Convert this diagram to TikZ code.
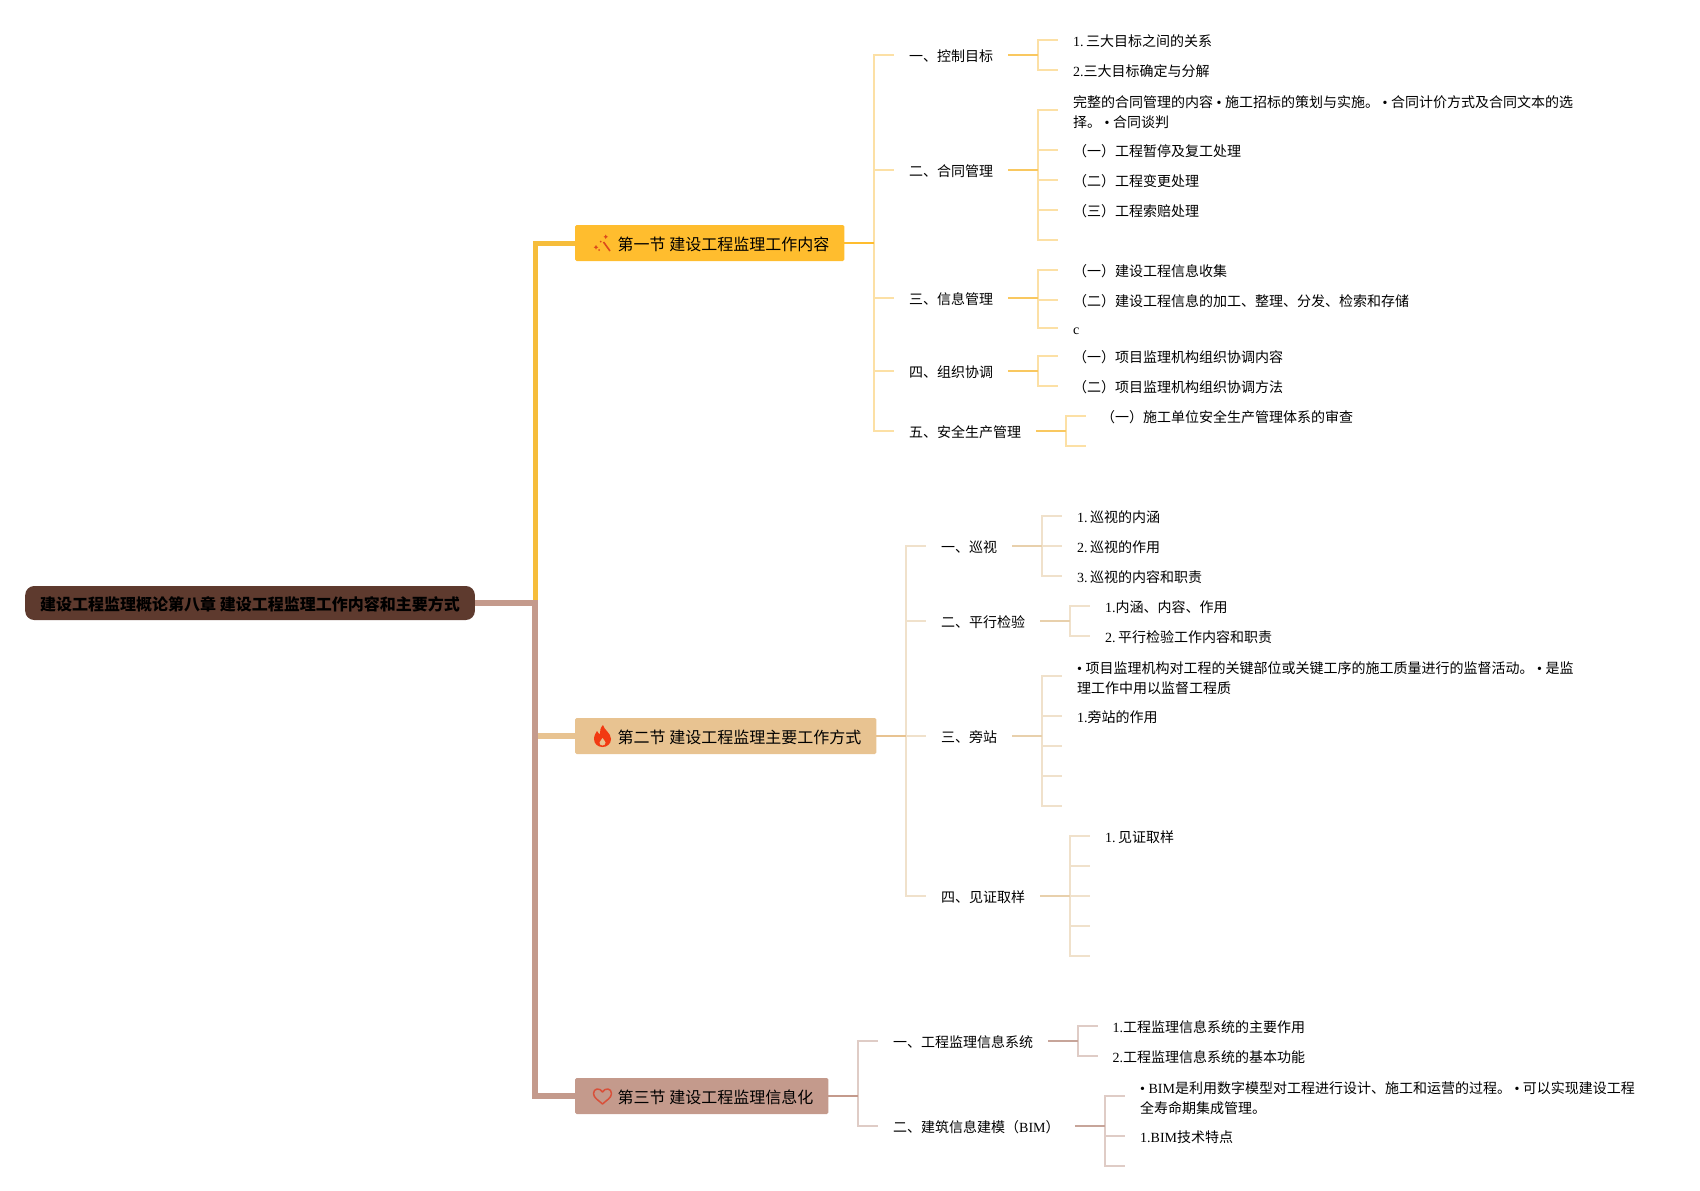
\documentclass[tikz,border=0pt]{standalone}
\usepackage{fontspec}
\setmainfont{Liberation Serif}
\newfontfamily\cjk{Noto Sans CJK SC}
\newcommand{\lat}[1]{{\rmfamily #1}}
\newcommand{\toplift}{\rule{0pt}{17pt}}
\usepackage{tikz}

\definecolor{rootfill}{HTML}{5E3A2E}
\definecolor{yellowmain}{HTML}{FFBD2E}
\definecolor{yellowline}{HTML}{F6BD3B}
\definecolor{yellowstem}{HTML}{F9C860}
\definecolor{yellowtwig}{HTML}{FCE0A5}
\definecolor{tanmain}{HTML}{E8C391}
\definecolor{tanstem}{HTML}{E8D0AC}
\definecolor{tantwig}{HTML}{F0E1CB}
\definecolor{pinkmain}{HTML}{C49A8C}
\definecolor{pinkstem}{HTML}{C7A59A}
\definecolor{pinktwig}{HTML}{DFCCC6}
\definecolor{iconred}{HTML}{F23A12}
\definecolor{heartred}{HTML}{D8503A}
\definecolor{wandred}{HTML}{DB4A1C}

\tikzset{
	rootbox/.style={anchor=west, fill=rootfill, rounded corners=9pt, inner xsep=15pt, minimum height=34pt,
		font=\fontsize{16}{20}\selectfont\cjk\bfseries, text=black, execute at begin node={\rule[-2pt]{0pt}{19pt}}},
	secbox/.style={anchor=west, rounded corners=1.5pt, inner xsep=15pt, minimum height=36pt,
		font=\fontsize{16}{20}\selectfont\cjk, text=black, execute at begin node={\rule[-2pt]{0pt}{19pt}}},
	subitem/.style={anchor=west, inner xsep=15pt, inner ysep=0pt, font=\fontsize{14}{20}\selectfont\cjk,
		execute at begin node={\rule[-2pt]{0pt}{17.8pt}}},
	leafitem/.style={anchor=west, inner xsep=15pt, inner ysep=0pt, align=left, font=\fontsize{14}{20}\selectfont\cjk,
		execute at begin node={\rule[-2pt]{0pt}{17.8pt}}},
	twig/.style={line width=1.8pt, to path={|- (\tikztotarget)}},
	stem/.style={line width=2.2pt},
}

\begin{document}
\begin{tikzpicture}[x=1pt,y=-1pt]

	\useasboundingbox (0,0) rectangle (1700,1191);

	\node[rootbox] (root) at (25,603) {建设工程监理概论第八章 建设工程监理工作内容和主要方式};
	\coordinate (trunk) at (535,603);

	\node[secbox, fill=yellowmain] (s1) at (575,243) {\hspace*{27.5pt}第一节 建设工程监理工作内容};
	\node[secbox, fill=tanmain] (s2) at (575,736) {\hspace*{27.5pt}第二节 建设工程监理主要工作方式};
	\node[secbox, fill=pinkmain] (s3) at (575,1096) {\hspace*{27.5pt}第三节 建设工程监理信息化};

	\draw[yellowline, line width=5pt] (trunk) |- (s1);
	\draw[tanmain, line width=5.5pt] (trunk |- s2) -- (s2);
	\draw[pinkmain, line width=6pt] (root) -- (trunk) |- (s3);

	% first section
	\coordinate (b1) at (874,243);
	\node[subitem] (m11) at (894,55) {一、控制目标};
	\node[subitem] (m12) at (894,170) {二、合同管理};
	\node[subitem] (m13) at (894,298) {三、信息管理};
	\node[subitem] (m14) at (894,371) {四、组织协调};
	\node[subitem] (m15) at (894,431) {五、安全生产管理};

	\coordinate (b11) at (1038,55);
	\coordinate (b12) at (1038,170);
	\coordinate (b13) at (1038,298);
	\coordinate (b14) at (1038,371);
	\coordinate (b15) at (1066,431);

	\node[leafitem] (l111) at (1058,40) {\lat{1.\,}三大目标之间的关系};
	\node[leafitem] (l112) at (1058,70) {\lat{2.}三大目标确定与分解};
	\node[leafitem] (l121) at (1058,110) {\toplift 完整的合同管理的内容\lat{ • }施工招标的策划与实施。\lat{ • }合同计价方式及合同文本的选\\择。\lat{ • }合同谈判};
	\node[leafitem] (l122) at (1058,150) {（一）工程暂停及复工处理};
	\node[leafitem] (l123) at (1058,180) {（二）工程变更处理};
	\node[leafitem] (l124) at (1058,210) {（三）工程索赔处理};
	\coordinate (l125) at (1058,240);
	\node[leafitem] (l131) at (1058,270) {（一）建设工程信息收集};
	\node[leafitem] (l132) at (1058,300) {（二）建设工程信息的加工、整理、分发、检索和存储};
	\node[leafitem] (l133) at (1058,328) {\lat{c}};
	\node[leafitem] (l141) at (1058,356) {（一）项目监理机构组织协调内容};
	\node[leafitem] (l142) at (1058,386) {（二）项目监理机构组织协调方法};
	\node[leafitem] (l151) at (1086,416) {（一）施工单位安全生产管理体系的审查};
	\coordinate (l152) at (1086,446);

	\path[twig, yellowtwig]
		(b1) edge (m11) edge (m12) edge (m13) edge (m14) edge (m15)
		(b11) edge (l111) edge (l112)
		(b12) edge (l121) edge (l122) edge (l123) edge (l124) edge (l125)
		(b13) edge (l131) edge (l132) edge (l133)
		(b14) edge (l141) edge (l142)
		(b15) edge (l151) edge (l152);
	\draw[stem, yellowmain] (s1) -- (b1);
	\draw[stem, yellowstem] (m11) -- (b11);
	\draw[stem, yellowstem] (m12) -- (b12);
	\draw[stem, yellowstem] (m13) -- (b13);
	\draw[stem, yellowstem] (m14) -- (b14);
	\draw[stem, yellowstem] (m15) -- (b15);

	% second section
	\coordinate (b2) at (906,736);
	\node[subitem] (m21) at (926,546) {一、巡视};
	\node[subitem] (m22) at (926,621) {二、平行检验};
	\node[subitem] (m23) at (926,736) {三、旁站};
	\node[subitem] (m24) at (926,896) {四、见证取样};

	\coordinate (b21) at (1042,546);
	\coordinate (b22) at (1070,621);
	\coordinate (b23) at (1042,736);
	\coordinate (b24) at (1070,896);

	\node[leafitem] (l211) at (1062,516) {\lat{1.\,}巡视的内涵};
	\node[leafitem] (l212) at (1062,546) {\lat{2.\,}巡视的作用};
	\node[leafitem] (l213) at (1062,576) {\lat{3.\,}巡视的内容和职责};
	\node[leafitem] (l221) at (1090,606) {\lat{1.}内涵、内容、作用};
	\node[leafitem] (l222) at (1090,636) {\lat{2.\,}平行检验工作内容和职责};
	\node[leafitem] (l231) at (1062,676) {\toplift\lat{• }项目监理机构对工程的关键部位或关键工序的施工质量进行的监督活动。\lat{ • }是监\\理工作中用以监督工程质};
	\node[leafitem] (l232) at (1062,716) {\lat{1.}旁站的作用};
	\coordinate (l233) at (1062,746);
	\coordinate (l234) at (1062,776);
	\coordinate (l235) at (1062,806);
	\node[leafitem] (l241) at (1090,836) {\lat{1.\,}见证取样};
	\coordinate (l242) at (1090,866);
	\coordinate (l243) at (1090,896);
	\coordinate (l244) at (1090,926);
	\coordinate (l245) at (1090,956);

	\path[twig, tantwig]
		(b2) edge (m21) edge (m22) edge (m23) edge (m24)
		(b21) edge (l211) edge (l212) edge (l213)
		(b22) edge (l221) edge (l222)
		(b23) edge (l231) edge (l232) edge (l233) edge (l234) edge (l235)
		(b24) edge (l241) edge (l242) edge (l243) edge (l244) edge (l245);
	\draw[stem, tanmain] (s2) -- (b2);
	\draw[stem, tanstem] (m21) -- (b21);
	\draw[stem, tanstem] (m22) -- (b22);
	\draw[stem, tanstem] (m23) -- (b23);
	\draw[stem, tanstem] (m24) -- (b24);

	% third section
	\coordinate (b3) at (858,1096);
	\node[subitem] (m31) at (878,1041) {一、工程监理信息系统};
	\node[subitem] (m32) at (878,1126) {二、建筑信息建模（\lat{BIM}）};

	\coordinate (b31) at (1078,1041);
	\coordinate (b32) at (1105,1126);

	\node[leafitem] (l311) at (1097.5,1026) {\lat{1.}工程监理信息系统的主要作用};
	\node[leafitem] (l312) at (1097.5,1056) {\lat{2.}工程监理信息系统的基本功能};
	\node[leafitem] (l321) at (1125,1096) {\toplift\lat{• BIM}是利用数字模型对工程进行设计、施工和运营的过程。\lat{ • }可以实现建设工程\\全寿命期集成管理。};
	\node[leafitem] (l322) at (1125,1136) {\lat{1.BIM}技术特点};
	\coordinate (l323) at (1125,1166);

	\path[twig, pinktwig]
		(b3) edge (m31) edge (m32)
		(b31) edge (l311) edge (l312)
		(b32) edge (l321) edge (l322) edge (l323);
	\draw[stem, pinkmain] (s3) -- (b3);
	\draw[stem, pinkstem] (m31) -- (b31);
	\draw[stem, pinkstem] (m32) -- (b32);

	% icons
	\draw[wandred, line width=1.6pt] (603.5,242) -- (610,251);
	\fill[wandred] (605.7,234.5) -- (606.5,236) -- (608,236.8) -- (606.5,237.6) -- (605.7,239) -- (605,237.6) -- (603.5,236.8) -- (605,236) -- cycle;
	\fill[wandred] (596,245) -- (596.8,246.5) -- (598.3,247.3) -- (596.8,248.1) -- (596,249.6) -- (595.2,248.1) -- (593.7,247.3) -- (595.2,246.5) -- cycle;
	\fill[wandred] (600.7,241.7) circle (1pt);
	\fill[wandred] (599,250) circle (1pt);

	\fill[iconred] (603,725) .. controls (604,730) and (611,733) .. (611,739) .. controls (611,744) and (607,747) .. (602.5,747) .. controls (598,747) and (594,744) .. (594,739) .. controls (594,735) and (596,733) .. (597,731) .. controls (598,733) and (599,734) .. (600,734) .. controls (600,731) and (600,728) .. (603,725) -- cycle;
	\fill[tanmain] (602.5,745.5) .. controls (600.5,745.5) and (599.5,744) .. (599.5,742.5) .. controls (599.5,741) and (602,740) .. (602.5,738) .. controls (603.5,740) and (605.5,741) .. (605.5,742.5) .. controls (605.5,744) and (604.5,745.5) .. (602.5,745.5) -- cycle;

	\draw[heartred, line width=1.5pt, line join=round] (602.5,1092) .. controls (600,1087.5) and (593.5,1088) .. (593.5,1093.5) .. controls (593.5,1098) and (599,1100.5) .. (602.5,1104) .. controls (606,1100.5) and (611.5,1098) .. (611.5,1093.5) .. controls (611.5,1088) and (605,1087.5) .. (602.5,1092) -- cycle;

\end{tikzpicture}
\end{document}
